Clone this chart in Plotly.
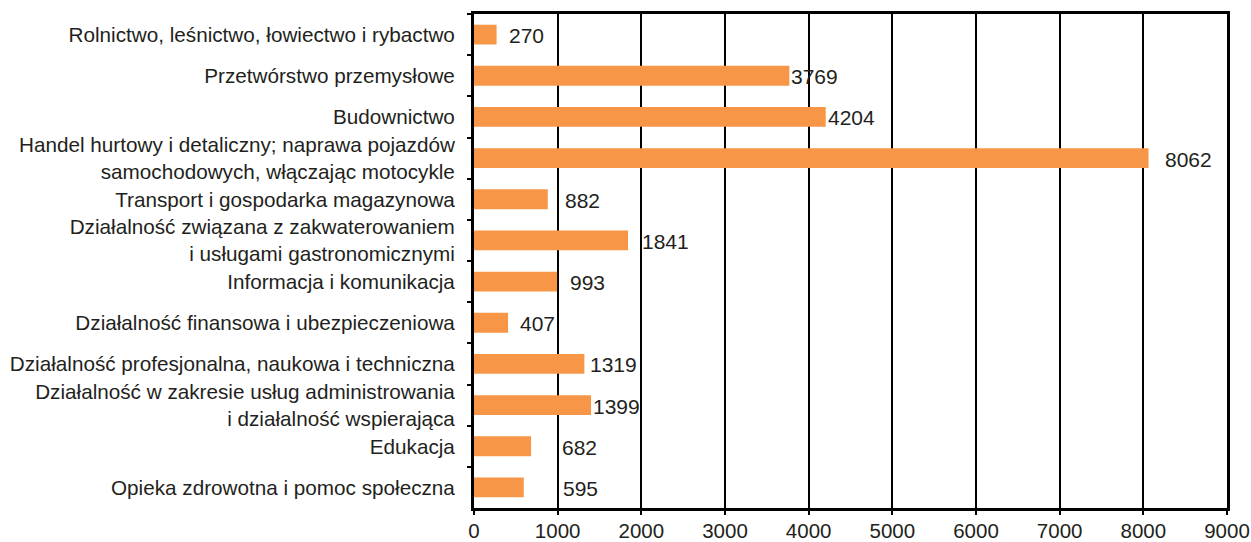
import plotly.graph_objects as go

# Data
categories = [
    "Rolnictwo, leśnictwo, łowiectwo i rybactwo",
    "Przetwórstwo przemysłowe",
    "Budownictwo",
    "Handel hurtowy i detaliczny; naprawa pojazdów<br>samochodowych, włączając motocykle",
    "Transport i gospodarka magazynowa",
    "Działalność związana z zakwaterowaniem<br>i usługami gastronomicznymi",
    "Informacja i komunikacja",
    "Działalność finansowa i ubezpieczeniowa",
    "Działalność profesjonalna, naukowa i techniczna",
    "Działalność w zakresie usług administrowania<br>i działalność wspierająca",
    "Edukacja",
    "Opieka zdrowotna i pomoc społeczna",
]
values = [270, 3769, 4204, 8062, 882, 1841, 993, 407, 1319, 1399, 682, 595]
x_ticks = [0, 1000, 2000, 3000, 4000, 5000, 6000, 7000, 8000, 9000]

BAR_COLOR = "#F79646"
TEXT_COLOR = "#231F20"
FONT = "Liberation Sans, Arial, sans-serif"

# pixel nudges of the value labels, as placed by hand in the original
label_nudge = [10, 0, 0, 14, 15, 12, 11, 10, 4, 0, 29, 37]

fig = go.Figure()

fig.add_trace(go.Bar(
    y=categories,
    x=values,
    orientation='h',
    marker=dict(color=BAR_COLOR, line=dict(width=0)),
    width=0.48,
    hovertemplate="<b>%{y}</b><br>%{x}<extra></extra>"
))

for cat, val, dx in zip(categories, values, label_nudge):
    fig.add_annotation(
        x=val, y=cat,
        text=str(val),
        showarrow=False,
        xanchor="left",
        xshift=dx,
        yshift=-1,
        font=dict(size=21, color=TEXT_COLOR, family=FONT),
    )

fig.update_layout(
    width=1251,
    height=542,
    plot_bgcolor="white",
    paper_bgcolor="white",
    font=dict(family=FONT, size=20.7, color=TEXT_COLOR),
    margin=dict(l=474, r=24, t=14, b=34),
    showlegend=False,
    xaxis=dict(
        range=[0, 9000],
        tickvals=x_ticks,
        automargin=False,
        ticklabeloverflow="allow",
        showgrid=True,
        gridcolor="black",
        gridwidth=2,
        showline=True,
        linecolor="black",
        linewidth=3,
        mirror=True,
        ticks="outside",
        ticklen=4,
        tickwidth=2,
        tickcolor="black",
        zeroline=False,
        ticklabelstandoff=-2,
        tickfont=dict(size=20.5),
    ),
    yaxis=dict(
        type="category",
        autorange="reversed",
        automargin=False,
        tickson="boundaries",
        showgrid=False,
        showline=True,
        linecolor="black",
        linewidth=3,
        mirror=True,
        ticks="outside",
        ticklen=4,
        tickwidth=2,
        tickcolor="black",
        ticklabelstandoff=12,
        tickfont=dict(size=20.7),
    ),
)

# drop the default page margin so the figure fills the window exactly
fig.write_html(
    "out.html",
    config={"displayModeBar": False},
    post_script="document.body.style.margin='0';document.body.style.overflow='hidden';",
)
